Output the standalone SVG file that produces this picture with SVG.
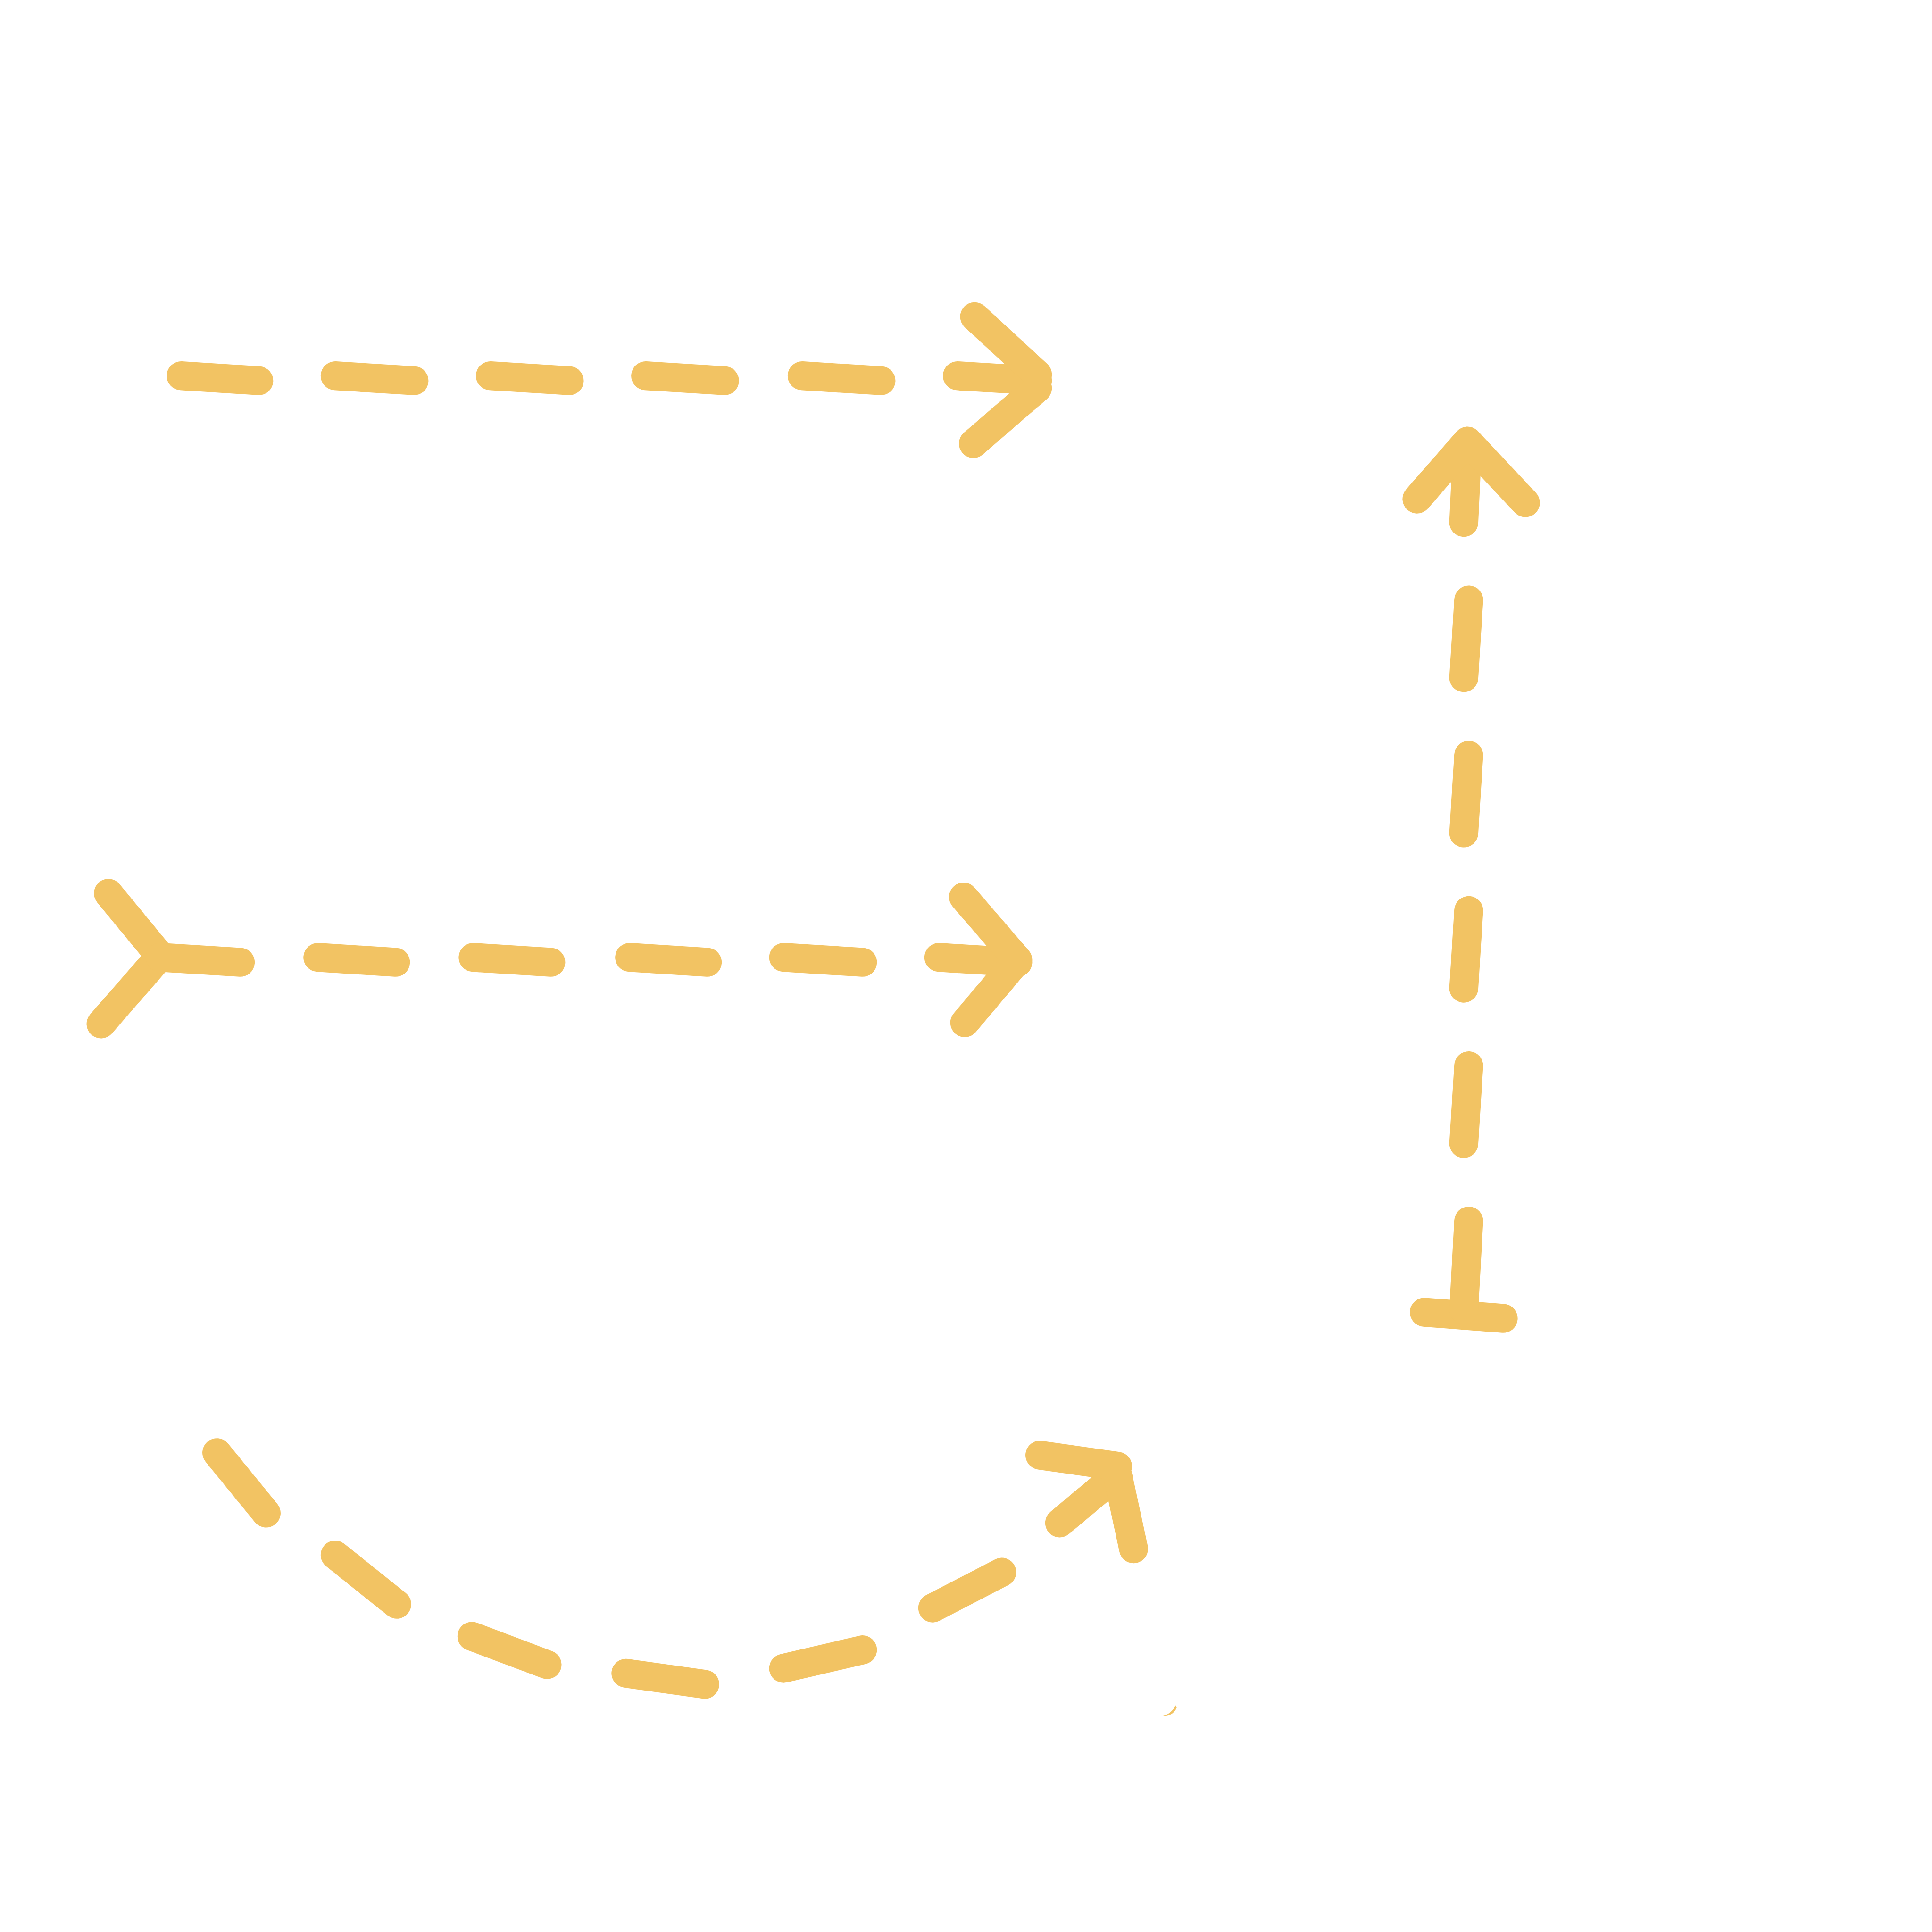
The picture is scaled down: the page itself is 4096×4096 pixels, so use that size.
<svg xmlns="http://www.w3.org/2000/svg" width="4096" height="4096" viewBox="0 0 4096 4096">
<style>
.s{fill:none;stroke:#F2C363;stroke-width:23.5;stroke-linecap:round;stroke-linejoin:round}
</style>
<rect width="4096" height="4096" fill="#FFFFFF"/>
<g transform="scale(2.612245)">
<g id="arrow-top" class="s">
<path d="M147,305L210,309M272,305L336,309M398,305L462,309M524,305L588,309M651,305L715,309M777,305L842,309"/>
<path d="M791,257L842,304M842,315L790,360"/>
</g>
<g id="arrow-middle" class="s">
<path d="M88,725L130,776L82,831"/>
<path d="M130,777L195,781M258,777L321,781M384,777L447,781M511,777L574,781M636,777L700,781M762,777L826,781"/>
<path d="M782,728L826,779L783,830"/>
</g>
<g id="arrow-vertical" class="s">
<path d="M1156,1065L1220,1070"/>
<path d="M1188,1063L1192,991M1188,928L1192,865M1188,802L1192,739M1188,676L1192,613M1188,550L1192,487M1188,424L1191,360"/>
<path d="M1150,405L1191,358L1238,408"/>
</g>
<g id="arrow-curve" class="s">
<path d="M176,1179L216,1228M272,1262L322,1302M383,1328L444,1351M508,1358L572,1367M636,1354L700,1339M757,1305L813,1276M860,1236L903,1200"/>
<path d="M844,1181L907,1190M907,1197L920,1257"/>
</g>
<path id="fragment" d="M943,1393Q951,1391 954,1384L955,1386Q952,1393 943,1393Z" fill="#F2C363"/>
</g>
</svg>
